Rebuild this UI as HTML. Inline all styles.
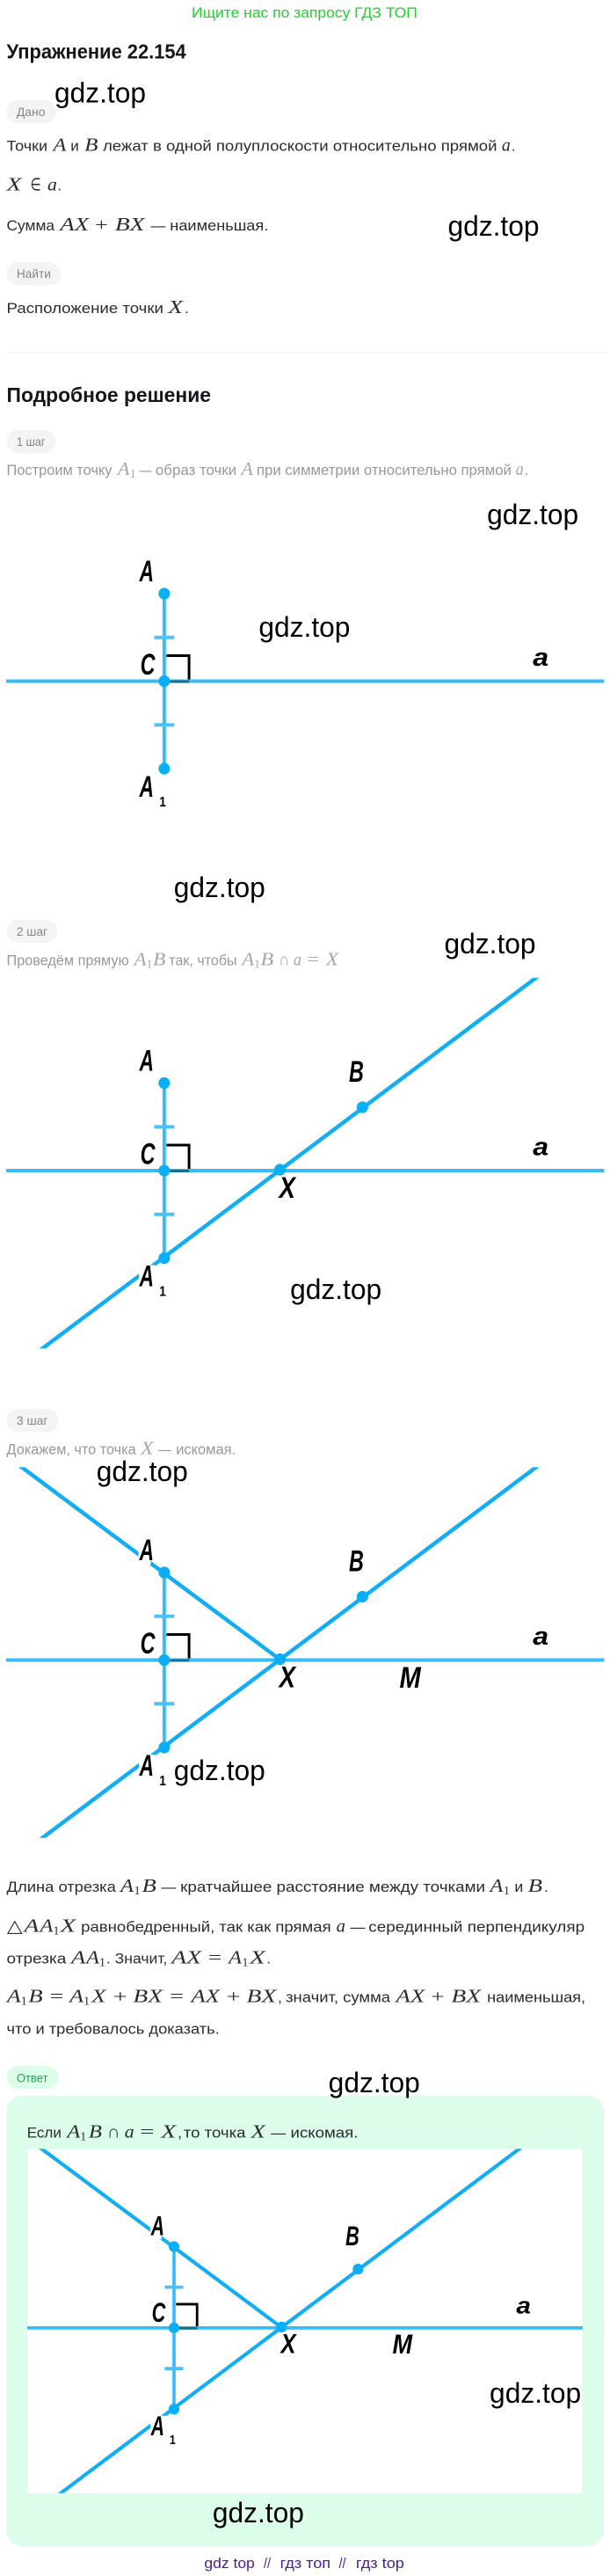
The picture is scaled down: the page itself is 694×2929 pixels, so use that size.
<!DOCTYPE html>
<html lang="ru"><head><meta charset="utf-8"><title>Упражнение 22.154</title>
<style>
html,body{margin:0;padding:0;background:#fff;width:694px;height:2929px;overflow:hidden}
svg{display:block}
text{white-space:pre}
.b{font:17px "Liberation Sans",sans-serif;fill:#2a2b2e}
.y{font:17px "Liberation Sans",sans-serif;fill:#97989b}
.h{font:bold 23px "Liberation Sans",sans-serif;fill:#15161a}
.p{font:14px "Liberation Sans",sans-serif;fill:#85868a}
.m{font:italic 21px "Liberation Serif",serif;fill:#2a2b2e}
.r{font:20px "Liberation Serif","DejaVu Sans",serif;fill:#2a2b2e}
.s{font:14px "Liberation Serif",serif;fill:#2a2b2e}
.g{fill:#a6a7aa}
.w{font:32px "Liberation Sans",sans-serif;fill:#000}
.l{font:italic bold 34px "Liberation Sans",sans-serif;fill:#000}
.n{font:bold 16px "Liberation Sans",sans-serif;fill:#000}
.f{font:17px "Liberation Sans",sans-serif;fill:#4b1d91}
</style></head><body>
<svg xmlns="http://www.w3.org/2000/svg" width="694" height="2929" viewBox="0 0 694 2929">
<defs><clipPath id="c"><rect x="7" y="555.3" width="686.5" height="421.5"/></clipPath></defs>
<g transform="scale(.9912,1)">

<text x="220" y="20" font-family="Liberation Sans" font-size="17" fill="#1fd02f" textLength="259" lengthAdjust="spacingAndGlyphs">Ищите нас по запросу ГДЗ ТОП</text>
<text class="h" x="7.6" y="66.7" textLength="206" lengthAdjust="spacingAndGlyphs">Упражнение 22.154</text>

<rect x="7.6" y="114" width="57" height="26" rx="13" fill="#f3f4f5"/>
<text class="p" x="19" y="132" textLength="33" lengthAdjust="spacingAndGlyphs">Дано</text>

<text class="b" x="7.6" y="171.7" textLength="47" lengthAdjust="spacingAndGlyphs">Точки</text>
<text class="m" x="61" y="171.7" textLength="15" lengthAdjust="spacingAndGlyphs">A</text>
<text class="b" x="81" y="171.7" textLength="9.6" lengthAdjust="spacingAndGlyphs">и</text>
<text class="m" x="97" y="171.7" textLength="15.5" lengthAdjust="spacingAndGlyphs">B</text>
<text class="b" x="118" y="171.7" textLength="452.5" lengthAdjust="spacingAndGlyphs">лежат в одной полуплоскости относительно прямой</text>
<text class="m" x="576" y="171.7" textLength="10" lengthAdjust="spacingAndGlyphs">a</text>
<text class="b" x="587" y="171.7">.</text>

<text class="m" x="7.6" y="216.7" textLength="17" lengthAdjust="spacingAndGlyphs">X</text>
<text class="r" x="35" y="216.7" textLength="12" lengthAdjust="spacingAndGlyphs">∈</text>
<text class="m" x="54.5" y="216.7" textLength="11" lengthAdjust="spacingAndGlyphs">a</text>
<text class="b" x="66" y="216.7">.</text>

<text class="b" x="7.6" y="262" textLength="55" lengthAdjust="spacingAndGlyphs">Сумма</text>
<text class="m" x="69" y="262" textLength="33" lengthAdjust="spacingAndGlyphs">AX</text>
<text class="r" x="109" y="262" textLength="15" lengthAdjust="spacingAndGlyphs">+</text>
<text class="m" x="132" y="262" textLength="34" lengthAdjust="spacingAndGlyphs">BX</text>
<text class="b" x="173" y="262" textLength="17" lengthAdjust="spacingAndGlyphs">—</text>
<text class="b" x="195" y="262" textLength="113" lengthAdjust="spacingAndGlyphs">наименьшая.</text>

<rect x="7.6" y="298" width="62.5" height="26" rx="13" fill="#f3f4f5"/>
<text class="p" x="19" y="316" textLength="39.5" lengthAdjust="spacingAndGlyphs">Найти</text>

<text class="b" x="7.6" y="356" textLength="180" lengthAdjust="spacingAndGlyphs">Расположение точки</text>
<text class="m" x="193" y="356" textLength="17" lengthAdjust="spacingAndGlyphs">X</text>
<text class="b" x="212" y="356">.</text>

<rect x="7.6" y="400" width="686.4" height="1" fill="#f0f0f1"/>
<text class="h" x="7.6" y="457" textLength="234.5" lengthAdjust="spacingAndGlyphs">Подробное решение</text>

<rect x="7.6" y="489" width="56.6" height="26" rx="13" fill="#f3f4f5"/>
<text class="p" x="19" y="507" textLength="33" lengthAdjust="spacingAndGlyphs">1 шаг</text>

<text class="y" x="7.6" y="540" textLength="121" lengthAdjust="spacingAndGlyphs">Построим точку</text>
<text class="m g" x="135" y="540" textLength="14" lengthAdjust="spacingAndGlyphs">A</text>
<text class="s g" x="149" y="543">1</text>
<text class="y" x="160" y="540" textLength="14" lengthAdjust="spacingAndGlyphs">—</text>
<text class="y" x="178.5" y="540" textLength="93" lengthAdjust="spacingAndGlyphs">образ точки</text>
<text class="m g" x="277" y="540" textLength="13.5" lengthAdjust="spacingAndGlyphs">A</text>
<text class="y" x="294.6" y="540" textLength="292.4" lengthAdjust="spacingAndGlyphs">при симметрии относительно прямой</text>
<text class="m g" x="592" y="540" textLength="9" lengthAdjust="spacingAndGlyphs">a</text>
<text class="y" x="602" y="540">.</text>

<!-- Diagram 1 -->
<g>
<polyline points="191,745.5 217,745.5 217,775" fill="none" stroke="#000" stroke-width="3"/>
<line x1="7" y1="774.5" x2="693.5" y2="774.5" stroke="#38bbfc" stroke-width="4"/>
<line x1="191" y1="775" x2="217" y2="775" stroke="#14708f" stroke-width="3"/>
<line x1="188.5" y1="675" x2="188.5" y2="874" stroke="#38bbfc" stroke-width="4"/>
<line x1="177" y1="724.7" x2="200" y2="724.7" stroke="#4cc2fa" stroke-width="4"/>
<line x1="177" y1="824.3" x2="200" y2="824.3" stroke="#4cc2fa" stroke-width="4"/>
<circle cx="188.5" cy="675" r="6.6" fill="#08aef6"/><circle cx="188.5" cy="774.5" r="6.6" fill="#08aef6"/><circle cx="188.5" cy="874" r="6.6" fill="#08aef6"/>
<text class="l" x="160" y="661" textLength="16.5" lengthAdjust="spacingAndGlyphs">A</text>
<text class="l" x="161" y="767" textLength="17" lengthAdjust="spacingAndGlyphs">C</text>
<text class="l" x="611.6" y="757" style="font-size:29px" textLength="18" lengthAdjust="spacingAndGlyphs">a</text>
<text class="l" x="160" y="906" textLength="16.5" lengthAdjust="spacingAndGlyphs">A</text>
<text class="n" x="183" y="917" textLength="7.5" lengthAdjust="spacingAndGlyphs">1</text>
</g>

<!-- Step 2 -->
<rect x="7.6" y="1046" width="58.4" height="26" rx="13" fill="#f3f4f5"/>
<text class="p" x="19" y="1064" textLength="35.5" lengthAdjust="spacingAndGlyphs">2 шаг</text>
<text class="y" x="7.6" y="1097.3" textLength="140.4" lengthAdjust="spacingAndGlyphs">Проведём прямую</text>
<text class="m g" x="154" y="1097.3" textLength="14" lengthAdjust="spacingAndGlyphs">A</text>
<text class="s g" x="168" y="1100.3">1</text>
<text class="m g" x="175.5" y="1097.3" textLength="14.5" lengthAdjust="spacingAndGlyphs">B</text>
<text class="y" x="194" y="1097.3" textLength="78" lengthAdjust="spacingAndGlyphs">так, чтобы</text>
<text class="m g" x="277.7" y="1097.3" textLength="14" lengthAdjust="spacingAndGlyphs">A</text>
<text class="s g" x="291.7" y="1100.3">1</text>
<text class="m g" x="299" y="1097.3" textLength="15" lengthAdjust="spacingAndGlyphs">B</text>
<text class="r g" x="320" y="1097.3" textLength="12" lengthAdjust="spacingAndGlyphs">∩</text>
<text class="m g" x="337" y="1097.3" textLength="9" lengthAdjust="spacingAndGlyphs">a</text>
<text class="r g" x="352.7" y="1097.3" textLength="13.5" lengthAdjust="spacingAndGlyphs">=</text>
<text class="m g" x="374" y="1097.3" textLength="14.5" lengthAdjust="spacingAndGlyphs">X</text>

<!-- Diagram 2 -->
<g transform="translate(0,556.5)">
<polyline points="191,745.5 217,745.5 217,775" fill="none" stroke="#000" stroke-width="3"/>
<line x1="7" y1="774.5" x2="693.5" y2="774.5" stroke="#38bbfc" stroke-width="4"/>
<line x1="191" y1="775" x2="217" y2="775" stroke="#14708f" stroke-width="3"/>
<line x1="188.5" y1="675" x2="188.5" y2="874" stroke="#38bbfc" stroke-width="4"/>
<line x1="177" y1="724.7" x2="200" y2="724.7" stroke="#4cc2fa" stroke-width="4"/>
<line x1="177" y1="824.3" x2="200" y2="824.3" stroke="#4cc2fa" stroke-width="4"/>
<g clip-path="url(#c)"><line x1="628.4" y1="545.5" x2="35.6" y2="986.5" stroke="#12adf2" stroke-width="4.5"/></g>
<rect x="159.5" y="882" width="19" height="33" fill="#fff"/>
<circle cx="188.5" cy="675" r="6.6" fill="#08aef6"/><circle cx="188.5" cy="774.5" r="6.6" fill="#08aef6"/><circle cx="188.5" cy="874" r="6.6" fill="#08aef6"/>
<circle cx="321.4" cy="773.5" r="6.6" fill="#08aef6"/><circle cx="416" cy="702.5" r="6.6" fill="#08aef6"/>
<text class="l" x="160" y="661" textLength="16.5" lengthAdjust="spacingAndGlyphs">A</text>
<text class="l" x="161" y="767" textLength="17" lengthAdjust="spacingAndGlyphs">C</text>
<text class="l" x="611.6" y="757" style="font-size:29px" textLength="18" lengthAdjust="spacingAndGlyphs">a</text>
<text class="l" x="160" y="906" textLength="16.5" lengthAdjust="spacingAndGlyphs">A</text>
<text class="n" x="183" y="917" textLength="7.5" lengthAdjust="spacingAndGlyphs">1</text>
<text class="l" x="400.5" y="673.5" textLength="17" lengthAdjust="spacingAndGlyphs">B</text>
<text class="l" x="320.5" y="805.5" textLength="18.5" lengthAdjust="spacingAndGlyphs">X</text>
</g>

<!-- Step 3 -->
<rect x="7.6" y="1602" width="59.4" height="26" rx="13" fill="#f3f4f5"/>
<text class="p" x="19" y="1620" textLength="36" lengthAdjust="spacingAndGlyphs">3 шаг</text>
<text class="y" x="7.6" y="1653.3" textLength="148.4" lengthAdjust="spacingAndGlyphs">Докажем, что точка</text>
<text class="m g" x="161.6" y="1653.3" textLength="14.5" lengthAdjust="spacingAndGlyphs">X</text>
<text class="y" x="182" y="1653.3" textLength="14.5" lengthAdjust="spacingAndGlyphs">—</text>
<text class="y" x="202" y="1653.3" textLength="68.5" lengthAdjust="spacingAndGlyphs">искомая.</text>

<!-- Diagram 3 -->
<g transform="translate(0,1113)">
<polyline points="191,745.5 217,745.5 217,775" fill="none" stroke="#000" stroke-width="3"/>
<line x1="7" y1="774.5" x2="693.5" y2="774.5" stroke="#38bbfc" stroke-width="4"/>
<line x1="191" y1="775" x2="217" y2="775" stroke="#14708f" stroke-width="3"/>
<line x1="188.5" y1="675" x2="188.5" y2="874" stroke="#38bbfc" stroke-width="4"/>
<line x1="177" y1="724.7" x2="200" y2="724.7" stroke="#4cc2fa" stroke-width="4"/>
<line x1="177" y1="824.3" x2="200" y2="824.3" stroke="#4cc2fa" stroke-width="4"/>
<g clip-path="url(#c)"><line x1="628.4" y1="545.5" x2="35.6" y2="986.5" stroke="#12adf2" stroke-width="4.5"/>
<line x1="11" y1="545" x2="321.4" y2="774" stroke="#12adf2" stroke-width="4.5"/></g>
<rect x="159.5" y="882" width="19" height="33" fill="#fff"/>
<rect x="159" y="637" width="14" height="29" fill="#fff"/>
<circle cx="188.5" cy="675" r="6.6" fill="#08aef6"/><circle cx="188.5" cy="774.5" r="6.6" fill="#08aef6"/><circle cx="188.5" cy="874" r="6.6" fill="#08aef6"/>
<circle cx="321.4" cy="773.5" r="6.6" fill="#08aef6"/><circle cx="416" cy="702.5" r="6.6" fill="#08aef6"/>
<text class="l" x="160" y="661" textLength="16.5" lengthAdjust="spacingAndGlyphs">A</text>
<text class="l" x="161" y="767" textLength="17" lengthAdjust="spacingAndGlyphs">C</text>
<text class="l" x="611.6" y="757" style="font-size:29px" textLength="18" lengthAdjust="spacingAndGlyphs">a</text>
<text class="l" x="160" y="906" textLength="16.5" lengthAdjust="spacingAndGlyphs">A</text>
<text class="n" x="183" y="917" textLength="7.5" lengthAdjust="spacingAndGlyphs">1</text>
<text class="l" x="400.5" y="673.5" textLength="17" lengthAdjust="spacingAndGlyphs">B</text>
<text class="l" x="320.5" y="805.5" textLength="18.5" lengthAdjust="spacingAndGlyphs">X</text>
<text class="l" x="458.5" y="806" textLength="24.5" lengthAdjust="spacingAndGlyphs">M</text>
</g>

<!-- Paragraphs -->
<text class="b" x="7.6" y="2151" textLength="125.4" lengthAdjust="spacingAndGlyphs">Длина отрезка</text>
<text class="m" x="138.4" y="2151" textLength="15" lengthAdjust="spacingAndGlyphs">A</text>
<text class="s" x="154" y="2154">1</text>
<text class="m" x="163" y="2151" textLength="16.5" lengthAdjust="spacingAndGlyphs">B</text>
<text class="b" x="185" y="2151" textLength="17" lengthAdjust="spacingAndGlyphs">—</text>
<text class="b" x="207" y="2151" textLength="350" lengthAdjust="spacingAndGlyphs">кратчайшее расстояние между точками</text>
<text class="m" x="562.5" y="2151" textLength="15" lengthAdjust="spacingAndGlyphs">A</text>
<text class="s" x="578" y="2154">1</text>
<text class="b" x="590.6" y="2151" textLength="10" lengthAdjust="spacingAndGlyphs">и</text>
<text class="m" x="606" y="2151" textLength="16.5" lengthAdjust="spacingAndGlyphs">B</text>
<text class="b" x="624.5" y="2151">.</text>

<text class="r" x="8" y="2196.7" textLength="18" lengthAdjust="spacingAndGlyphs">△</text>
<text class="m" x="27.7" y="2196.7" textLength="17" lengthAdjust="spacingAndGlyphs">A</text>
<text class="m" x="46" y="2196.7" textLength="15" lengthAdjust="spacingAndGlyphs">A</text>
<text class="s" x="61" y="2199.7">1</text>
<text class="m" x="69" y="2196.7" textLength="18" lengthAdjust="spacingAndGlyphs">X</text>
<text class="b" x="93" y="2196.7" textLength="287" lengthAdjust="spacingAndGlyphs">равнобедренный, так как прямая</text>
<text class="m" x="386" y="2196.7" textLength="10.4" lengthAdjust="spacingAndGlyphs">a</text>
<text class="b" x="402" y="2196.7" textLength="17" lengthAdjust="spacingAndGlyphs">—</text>
<text class="b" x="423" y="2196.7" textLength="248" lengthAdjust="spacingAndGlyphs">серединный перпендикуляр</text>

<text class="b" x="7.6" y="2232.3" textLength="68.4" lengthAdjust="spacingAndGlyphs">отрезка</text>
<text class="m" x="81.7" y="2232.3" textLength="16.5" lengthAdjust="spacingAndGlyphs">A</text>
<text class="m" x="99" y="2232.3" textLength="15" lengthAdjust="spacingAndGlyphs">A</text>
<text class="s" x="114" y="2235.3">1</text>
<text class="b" x="122" y="2232.3" textLength="70" lengthAdjust="spacingAndGlyphs">. Значит,</text>
<text class="m" x="197" y="2232.3" textLength="34" lengthAdjust="spacingAndGlyphs">AX</text>
<text class="r" x="239" y="2232.3" textLength="15.5" lengthAdjust="spacingAndGlyphs">=</text>
<text class="m" x="262.5" y="2232.3" textLength="15" lengthAdjust="spacingAndGlyphs">A</text>
<text class="s" x="278" y="2235.3">1</text>
<text class="m" x="286.6" y="2232.3" textLength="18" lengthAdjust="spacingAndGlyphs">X</text>
<text class="b" x="306" y="2232.3">.</text>

<text class="m" x="8" y="2276.7" textLength="16" lengthAdjust="spacingAndGlyphs">A</text>
<text class="s" x="24" y="2279.7">1</text>
<text class="m" x="32.6" y="2276.7" textLength="16.5" lengthAdjust="spacingAndGlyphs">B</text>
<text class="r" x="57" y="2276.7" textLength="16" lengthAdjust="spacingAndGlyphs">=</text>
<text class="m" x="80" y="2276.7" textLength="16" lengthAdjust="spacingAndGlyphs">A</text>
<text class="s" x="96" y="2279.7">1</text>
<text class="m" x="105" y="2276.7" textLength="16.5" lengthAdjust="spacingAndGlyphs">X</text>
<text class="r" x="130" y="2276.7" textLength="16" lengthAdjust="spacingAndGlyphs">+</text>
<text class="m" x="152.7" y="2276.7" textLength="34" lengthAdjust="spacingAndGlyphs">BX</text>
<text class="r" x="195" y="2276.7" textLength="16" lengthAdjust="spacingAndGlyphs">=</text>
<text class="m" x="219.6" y="2276.7" textLength="32.5" lengthAdjust="spacingAndGlyphs">AX</text>
<text class="r" x="260" y="2276.7" textLength="16" lengthAdjust="spacingAndGlyphs">+</text>
<text class="m" x="283" y="2276.7" textLength="34" lengthAdjust="spacingAndGlyphs">BX</text>
<text class="b" x="319" y="2276.7">,</text>
<text class="b" x="328" y="2276.7" textLength="120" lengthAdjust="spacingAndGlyphs">значит, сумма</text>
<text class="m" x="454.5" y="2276.7" textLength="33" lengthAdjust="spacingAndGlyphs">AX</text>
<text class="r" x="494.6" y="2276.7" textLength="15.5" lengthAdjust="spacingAndGlyphs">+</text>
<text class="m" x="518" y="2276.7" textLength="34" lengthAdjust="spacingAndGlyphs">BX</text>
<text class="b" x="559" y="2276.7" textLength="113" lengthAdjust="spacingAndGlyphs">наименьшая,</text>

<text class="b" x="7.6" y="2312.7" textLength="244.4" lengthAdjust="spacingAndGlyphs">что и требовалось доказать.</text>

<!-- Answer -->
<rect x="7.6" y="2349" width="59.4" height="26" rx="13" fill="#dcfde9"/>
<text class="p" x="19" y="2367.3" style="fill:#2e9e5b" textLength="36" lengthAdjust="spacingAndGlyphs">Ответ</text>
<rect x="7.6" y="2382.7" width="685.4" height="512.3" rx="18" fill="#dcfde9"/>
<text class="b" x="31" y="2430.7" textLength="39.5" lengthAdjust="spacingAndGlyphs">Если</text>
<text class="m" x="77" y="2430.7" textLength="15" lengthAdjust="spacingAndGlyphs">A</text>
<text class="s" x="92" y="2433.7">1</text>
<text class="m" x="101.8" y="2430.7" textLength="15.2" lengthAdjust="spacingAndGlyphs">B</text>
<text class="r" x="122.8" y="2430.7" textLength="14.7" lengthAdjust="spacingAndGlyphs">∩</text>
<text class="m" x="143" y="2430.7" textLength="11" lengthAdjust="spacingAndGlyphs">a</text>
<text class="r" x="160.7" y="2430.7" textLength="16.3" lengthAdjust="spacingAndGlyphs">=</text>
<text class="m" x="185" y="2430.7" textLength="17" lengthAdjust="spacingAndGlyphs">X</text>
<text class="b" x="204" y="2430.7">,</text>
<text class="b" x="210.7" y="2430.7" textLength="71.3" lengthAdjust="spacingAndGlyphs">то точка</text>
<text class="m" x="288" y="2430.7" textLength="16.5" lengthAdjust="spacingAndGlyphs">X</text>
<text class="b" x="311" y="2430.7" textLength="17" lengthAdjust="spacingAndGlyphs">—</text>
<text class="b" x="333.5" y="2430.7" textLength="77.5" lengthAdjust="spacingAndGlyphs">искомая.</text>

<rect x="31.2" y="2443.3" width="637.1" height="391.7" fill="#fff"/>

<!-- Diagram 4 -->
<g transform="translate(31.2,2443.3) scale(.9286) translate(-7,-555.3)">
<polyline points="191,745.5 217,745.5 217,775" fill="none" stroke="#000" stroke-width="3"/>
<line x1="7" y1="774.5" x2="693.5" y2="774.5" stroke="#38bbfc" stroke-width="4"/>
<line x1="191" y1="775" x2="217" y2="775" stroke="#14708f" stroke-width="3"/>
<line x1="188.5" y1="675" x2="188.5" y2="874" stroke="#38bbfc" stroke-width="4"/>
<line x1="177" y1="724.7" x2="200" y2="724.7" stroke="#4cc2fa" stroke-width="4"/>
<line x1="177" y1="824.3" x2="200" y2="824.3" stroke="#4cc2fa" stroke-width="4"/>
<g clip-path="url(#c)"><line x1="628.4" y1="545.5" x2="35.6" y2="986.5" stroke="#12adf2" stroke-width="4.5"/>
<line x1="11" y1="545" x2="321.4" y2="774" stroke="#12adf2" stroke-width="4.5"/></g>
<rect x="159.5" y="882" width="19" height="33" fill="#fff"/>
<rect x="159" y="637" width="14" height="29" fill="#fff"/>
<circle cx="188.5" cy="675" r="6.6" fill="#08aef6"/><circle cx="188.5" cy="774.5" r="6.6" fill="#08aef6"/><circle cx="188.5" cy="874" r="6.6" fill="#08aef6"/>
<circle cx="321.4" cy="773.5" r="6.6" fill="#08aef6"/><circle cx="416" cy="702.5" r="6.6" fill="#08aef6"/>
<text class="l" x="160" y="661" textLength="16.5" lengthAdjust="spacingAndGlyphs">A</text>
<text class="l" x="161" y="767" textLength="17" lengthAdjust="spacingAndGlyphs">C</text>
<text class="l" x="611.6" y="757" style="font-size:29px" textLength="18" lengthAdjust="spacingAndGlyphs">a</text>
<text class="l" x="160" y="906" textLength="16.5" lengthAdjust="spacingAndGlyphs">A</text>
<text class="n" x="183" y="917" textLength="7.5" lengthAdjust="spacingAndGlyphs">1</text>
<text class="l" x="400.5" y="673.5" textLength="17" lengthAdjust="spacingAndGlyphs">B</text>
<text class="l" x="320.5" y="805.5" textLength="18.5" lengthAdjust="spacingAndGlyphs">X</text>
<text class="l" x="458.5" y="806" textLength="24.5" lengthAdjust="spacingAndGlyphs">M</text>
</g>

<!-- Watermarks -->
<text class="w" x="62.5" y="116.7" textLength="105" lengthAdjust="spacingAndGlyphs">gdz.top</text>
<text class="w" x="514" y="268" textLength="105" lengthAdjust="spacingAndGlyphs">gdz.top</text>
<text class="w" x="559" y="596" textLength="105" lengthAdjust="spacingAndGlyphs">gdz.top</text>
<text class="w" x="297" y="724" textLength="105" lengthAdjust="spacingAndGlyphs">gdz.top</text>
<text class="w" x="199.5" y="1020" textLength="105" lengthAdjust="spacingAndGlyphs">gdz.top</text>
<text class="w" x="510" y="1084" textLength="105" lengthAdjust="spacingAndGlyphs">gdz.top</text>
<text class="w" x="333" y="1477" textLength="105" lengthAdjust="spacingAndGlyphs">gdz.top</text>
<text class="w" x="110.7" y="1684" textLength="105" lengthAdjust="spacingAndGlyphs">gdz.top</text>
<text class="w" x="199.5" y="2024" textLength="105" lengthAdjust="spacingAndGlyphs">gdz.top</text>
<text class="w" x="377" y="2379" textLength="105" lengthAdjust="spacingAndGlyphs">gdz.top</text>
<text class="w" x="562" y="2732" textLength="105" lengthAdjust="spacingAndGlyphs">gdz.top</text>
<text class="w" x="244" y="2868" textLength="105" lengthAdjust="spacingAndGlyphs">gdz.top</text>

<!-- Footer -->
<text class="f" x="234.4" y="2920" textLength="58" lengthAdjust="spacingAndGlyphs">gdz top</text>
<text class="f" x="302.7" y="2920" textLength="8" lengthAdjust="spacingAndGlyphs">//</text>
<text class="f" x="321.4" y="2920" textLength="58" lengthAdjust="spacingAndGlyphs">гдз топ</text>
<text class="f" x="389" y="2920" textLength="8" lengthAdjust="spacingAndGlyphs">//</text>
<text class="f" x="408.5" y="2920" textLength="55.5" lengthAdjust="spacingAndGlyphs">гдз top</text>
</g>
</svg>
</body></html>
